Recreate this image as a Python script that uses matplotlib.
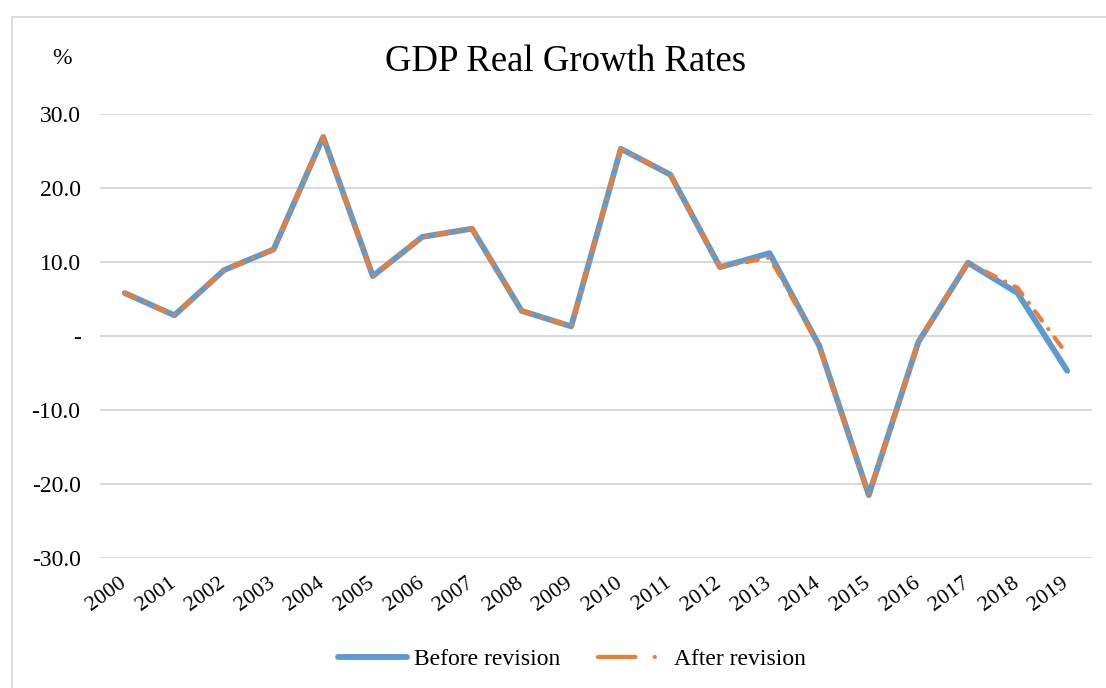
import matplotlib.pyplot as plt
import matplotlib.transforms as mtransforms
from matplotlib.lines import Line2D
from matplotlib.patches import Rectangle

# Data
years = [str(y) for y in range(2000, 2020)]
before_revision = [5.8, 2.8, 8.9, 11.7, 26.9, 8.1, 13.4, 14.5, 3.4, 1.3,
                   25.3, 21.8, 9.3, 11.2, -1.3, -21.5, -0.8, 9.9, 5.8, -4.7]
after_revision = [5.8, 2.8, 8.9, 11.7, 26.9, 8.1, 13.4, 14.5, 3.4, 1.3,
                  25.3, 21.8, 9.3, 10.6, -1.4, -21.5, -0.8, 9.9, 6.5, -2.5]
y_ticks = [-30, -20, -10, 0, 10, 20, 30]
y_labels = ['-30.0', '-20.0', '-10.0', '-', '10.0', '20.0', '30.0']

blue = '#5B9BD5'
orange = '#ED7D31'
grid = '#D9D9D9'

plt.rcParams['font.family'] = ['Liberation Serif', 'DejaVu Serif']

W, H = 1106, 688
fig = plt.figure(figsize=(W / 100, H / 100), dpi=100)

# light outer border of the chart area (runs off the right/bottom edges)
fig.patches.append(Rectangle((12 / W, -0.05), 1.2, 1 - 17 / H + 0.05,
                             transform=fig.transFigure, fill=False,
                             edgecolor=grid, lw=1.3))

ax = fig.add_axes([100 / W, (H - 558) / H, (1092 - 100) / W, (558 - 114) / H])
x = list(range(len(years)))

ax.plot(x, before_revision, color=blue, lw=4.2, solid_capstyle='round',
        solid_joinstyle='round', zorder=3)
ax.plot(x, after_revision, color=orange, lw=3.0,
        linestyle=(0, (2.8, 2.5, 0.05, 2.5)), dash_capstyle='round',
        dash_joinstyle='round', zorder=4)

ax.set_xlim(-0.5, len(years) - 0.5)
ax.set_ylim(-30, 30)
ax.set_yticks(y_ticks)
ax.set_yticklabels(y_labels)
ax.set_xticks(x)
ax.set_xticklabels(years, rotation=36, ha='right', va='top',
                   rotation_mode='anchor')
ax.tick_params(axis='both', length=0, labelsize=17)
ax.tick_params(axis='x', labelsize=16, pad=11)
ax.tick_params(axis='y', pad=14)
ax.grid(axis='y', color=grid, lw=1.5)
ax.set_axisbelow(True)
for s in ax.spines.values():
    s.set_visible(False)

# nudge year labels left so their right end sits on the category centre
shift = mtransforms.ScaledTranslation(-6 / 100, 0, fig.dpi_scale_trans)
for lbl in ax.get_xticklabels():
    lbl.set_transform(lbl.get_transform() + shift)

fig.text(566 / W, 1 - 62 / H, 'GDP Real Growth Rates', fontsize=26.5,
         ha='center', va='center')
fig.text(62 / W, 1 - 58 / H, '%', fontsize=17, ha='center', va='center')

handles = [
    Line2D([], [], color=blue, lw=4.2, solid_capstyle='round'),
    Line2D([], [], color=orange, lw=3.0, dash_capstyle='round',
           linestyle=(0, (9.0, 4.6, 0.05, 100))),
]
fig.legend(handles, ['Before revision', 'After revision'], ncol=2,
           loc='center', bbox_to_anchor=(572 / W, 1 - 659 / H),
           frameon=False, fontsize=17, handlelength=2.9,
           handletextpad=0.3, columnspacing=1.6)

fig.savefig('out.png', dpi=100)
